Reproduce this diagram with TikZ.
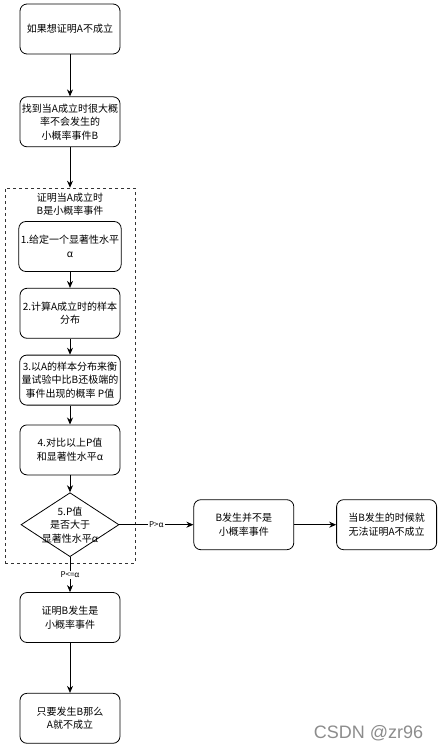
\documentclass[tikz,border=0pt]{standalone}
\usepackage{fontspec}
\setmainfont{Noto Sans CJK SC}
\newfontfamily\markfont{Liberation Sans}
\usetikzlibrary{arrows.meta,positioning,shapes.geometric}
\definecolor{ink}{HTML}{000000}
\definecolor{rule}{HTML}{333333}
\definecolor{mark}{HTML}{8C8C8C}
\tikzset{
  every picture/.style={line width=0.8pt, text=ink, font=\fontsize{10}{13.5}\selectfont},
  box/.style={draw=ink, fill=white, rounded corners=7pt, align=center, minimum width=100pt, minimum height=50pt, inner sep=2pt},
  test/.style={draw=ink, fill=white, diamond, align=center, minimum width=98pt, minimum height=64pt, inner sep=-8pt},
  group/.style={draw=rule, dash pattern=on 3pt off 3pt, line width=0.6pt, minimum width=130pt, minimum height=375pt},
  edge/.style={font=\fontsize{8}{10}\selectfont, fill=white, inner sep=1pt},
  flow/.style={-{Stealth[length=7pt, width=6pt]}, draw=ink},
}
\begin{document}
\begin{tikzpicture}
\useasboundingbox (0,0) rectangle (442pt,-749pt);
\node[group] (grp) at (70pt,-375.5pt) {};
\node[align=center] (grptitle) at (70pt,-204pt) {证明当A成立时\\B是小概率事件};
\node[box] (start) at (70pt,-29pt) {如果想证明A不成立};
\node[box, below=42pt of start] (findb) {找到当A成立时很大概\\率不会发生的\\小概率事件B};
\node[box] (alpha) at (70pt,-246.5pt) {1.给定一个显著性水平\\α};
\node[box, below=16pt of alpha] (dist) {2.计算A成立时的样本\\分布};
\node[box, below=16pt of dist] (pval) {3.以A的样本分布来衡\\量试验中比B还极端的\\事件出现的概率 P值};
\node[box, below=19pt of pval] (cmp) {4.对比以上P值\\和显著性水平α};
\node[test, below=17pt of cmp] (test) {5.P值\\是否大于\\显著性水平α};
\node[box, below=35pt of test] (small) {证明B发生是\\小概率事件};
\node[box, below=50pt of small] (fail) {只要发生B那么\\A就不成立};
\node[box, right=74pt of test] (notsmall) {B发生并不是\\小概率事件};
\node[box, right=42pt of notsmall] (cannot) {当B发生的时候就\\无法证明A不成立};
\draw[flow] (start) -- (findb);
\draw[flow] (findb) -- (grp);
\foreach \a/\b in {alpha/dist, dist/pval, pval/cmp, cmp/test} \draw[flow] (\a) -- (\b);
\draw[flow] (test) -- node[edge] {P<=α} (small);
\draw[flow] (test) -- node[edge] {P>α} (notsmall);
\draw[flow] (notsmall) -- (cannot);
\draw[flow] (small) -- (fail);
\node[font=\markfont\fontsize{18}{18}\selectfont, text=mark, anchor=east] (wm) at (427pt,-733pt) {CSDN @zr96};
\end{tikzpicture}
\end{document}
